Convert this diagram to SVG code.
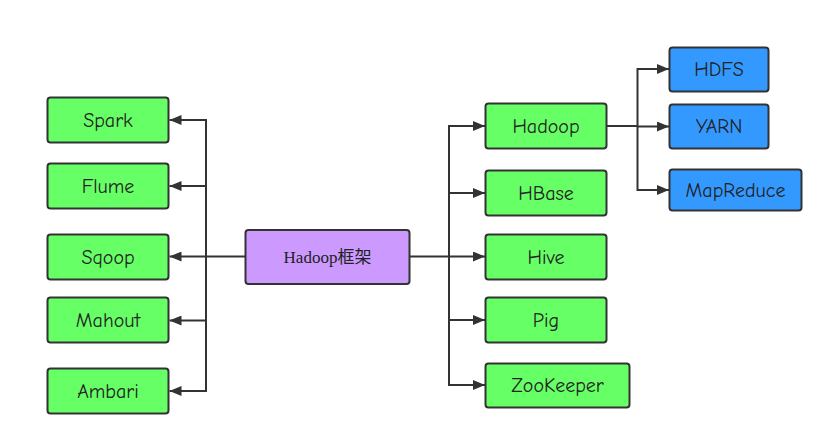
<svg xmlns="http://www.w3.org/2000/svg" width="833" height="445" viewBox="0 0 833 445">
<style>
.n rect{stroke:#333;stroke-width:2;}
.g rect{fill:#66FF66;}
.b rect{fill:#3399FF;}
.c rect{fill:#CC99FF;}
.n text{font-family:"Comic Sans MS","Comic Neue","DejaVu Sans",sans-serif;font-size:20px;fill:#222;text-anchor:middle;dominant-baseline:central;}
.c text{font-family:"Liberation Serif","Noto Sans CJK SC",serif;font-size:17px;}
#edges path{fill:none;stroke:#333;stroke-width:2;}
</style>
<defs>
<marker id="ar" viewBox="0 0 12 10" refX="12" refY="5" markerWidth="12" markerHeight="10" markerUnits="userSpaceOnUse" orient="auto">
<path d="M0,0 L12,5 L0,10 Z" fill="#333"/>
</marker>
</defs>
<rect width="833" height="445" fill="#fff"/>
<g id="edges">
<path d="M245.5,256.5 H206 V120 H169.5" marker-end="url(#ar)"/>
<path d="M206,186 H169.5" marker-end="url(#ar)"/>
<path d="M206,256.5 H169.5" marker-end="url(#ar)"/>
<path d="M206,256 V391 H169.5" marker-end="url(#ar)"/>
<path d="M206,320.5 H169.5" marker-end="url(#ar)"/>
<path d="M409.5,256.5 H449 V126 H485" marker-end="url(#ar)"/>
<path d="M449,193 H485" marker-end="url(#ar)"/>
<path d="M449,256.5 H485" marker-end="url(#ar)"/>
<path d="M449,256 V385 H485" marker-end="url(#ar)"/>
<path d="M449,320 H485" marker-end="url(#ar)"/>
<path d="M606.5,126 H637.5 V69 H669" marker-end="url(#ar)"/>
<path d="M637.5,126.5 H669" marker-end="url(#ar)"/>
<path d="M637.5,126 V190 H669" marker-end="url(#ar)"/>
</g>
<g id="center" class="n c"><rect x="245.5" y="230" width="164" height="54" rx="3"/><text x="327.5" y="257">Hadoop框架</text></g>
<g id="spark" class="n g"><rect x="47.5" y="97.5" width="121" height="45" rx="3"/><text x="108" y="120">Spark</text></g>
<g id="flume" class="n g"><rect x="47.5" y="163.5" width="121" height="45" rx="3"/><text x="108" y="186">Flume</text></g>
<g id="sqoop" class="n g"><rect x="47.5" y="234.5" width="121" height="45" rx="3"/><text x="108" y="257">Sqoop</text></g>
<g id="mahout" class="n g"><rect x="47.5" y="297.5" width="121" height="45" rx="3"/><text x="108" y="320">Mahout</text></g>
<g id="ambari" class="n g"><rect x="47.5" y="368.5" width="121" height="45" rx="3"/><text x="108" y="391">Ambari</text></g>
<g id="hadoop" class="n g"><rect x="485.5" y="103.5" width="121" height="45" rx="3"/><text x="546" y="126">Hadoop</text></g>
<g id="hbase" class="n g"><rect x="485.5" y="170.5" width="121" height="45" rx="3"/><text x="546" y="193">HBase</text></g>
<g id="hive" class="n g"><rect x="485.5" y="234.5" width="121" height="45" rx="3"/><text x="546" y="257">Hive</text></g>
<g id="pig" class="n g"><rect x="485.5" y="297.5" width="121" height="45" rx="3"/><text x="546" y="320">Pig</text></g>
<g id="zookeeper" class="n g"><rect x="485.5" y="363.5" width="144" height="44" rx="3"/><text x="557.5" y="385">ZooKeeper</text></g>
<g id="hdfs" class="n b"><rect x="669.5" y="47.5" width="99" height="44" rx="3"/><text x="719" y="69.5">HDFS</text></g>
<g id="yarn" class="n b"><rect x="669.5" y="104.5" width="99" height="44" rx="3"/><text x="719" y="126.5">YARN</text></g>
<g id="mapreduce" class="n b"><rect x="669.5" y="169.5" width="132" height="41" rx="3"/><text x="735.5" y="190">MapReduce</text></g>
</svg>
